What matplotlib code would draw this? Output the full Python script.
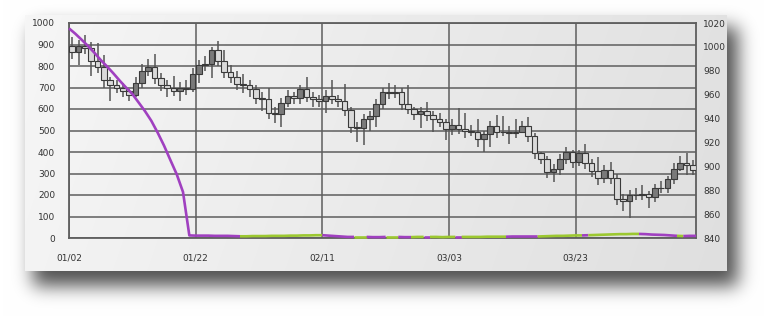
import numpy as np
import matplotlib.pyplot as plt

W, H = 764, 317

# x axis labels (day index -> label)
label_days = [0, 20, 40, 60, 80]
date_labels = ["01/02", "01/22", "02/11", "03/03", "03/23"]

# candles (right axis), one per day
first_open = 1001
closes = [996, 1001, 999, 988, 983, 972, 968, 966, 963, 960,
          970, 980, 983, 974, 968, 966, 963, 966, 965, 977,
          985, 986, 997, 988, 979, 975, 969, 968, 965, 957,
          956, 945, 944, 953, 959, 957, 965, 958, 956, 955,
          959, 956, 955, 947, 933, 932, 940, 942, 952, 962,
          961, 962, 952, 948, 944, 946, 943, 940, 937, 931,
          935, 931, 930, 929, 923, 927, 934, 929, 929, 928,
          929, 934, 925, 911, 906, 895, 898, 906, 912, 904,
          911, 903, 896, 890, 897, 890, 873, 871, 876, 876,
          877, 874, 882, 882, 889, 898, 903, 901, 897]
highs = [1008, 1006, 1010, 1004, 1003, 993, 975, 972, 970, 965,
         975, 986, 990, 994, 978, 972, 976, 971, 972, 982,
         989, 992, 1000, 1005, 997, 985, 980, 977, 972, 968,
         962, 966, 950, 957, 964, 962, 968, 975, 962, 960,
         964, 972, 960, 969, 950, 937, 944, 946, 956, 966,
         970, 968, 966, 968, 950, 950, 954, 946, 945, 940,
         940, 949, 945, 935, 940, 930, 938, 943, 942, 934,
         940, 938, 941, 928, 912, 909, 902, 910, 916, 914,
         914, 919, 906, 908, 901, 904, 894, 877, 880, 882,
         884, 879, 885, 888, 892, 903, 909, 911, 905]
lows = [990, 985, 994, 976, 978, 966, 955, 961, 958, 955,
        958, 966, 976, 969, 963, 958, 959, 955, 960, 962,
        970, 980, 974, 984, 974, 970, 964, 961, 958, 952,
        946, 940, 936, 933, 950, 952, 952, 954, 950, 950,
        945, 952, 950, 942, 928, 920, 918, 930, 933, 948,
        956, 957, 947, 944, 939, 932, 938, 929, 933, 922,
        926, 927, 924, 925, 916, 912, 916, 924, 925, 919,
        924, 928, 920, 906, 902, 890, 887, 893, 902, 899,
        900, 898, 891, 884, 886, 885, 868, 863, 857, 872,
        872, 865, 870, 878, 878, 885, 896, 893, 893]

# line series (left axis)
line_vals = [975, 950, 922, 893, 862, 828, 798, 766, 732, 700,
             670, 630, 590, 545, 490, 430, 363, 297, 214, 12,
             11, 11, 11, 10, 10, 10, 9, 8, 8, 9,
             9, 9, 10, 10, 10, 11, 11, 12, 12, 13,
             13, 11, 9, 7, 5, 5, 5, 5, 4, 4,
             5, 5, 5, 4, 4, 5, 5, 5, 5, 4,
             5, 5, 5, 5, 5, 5, 6, 6, 6, 6,
             7, 7, 7, 7, 7, 8, 9, 10, 10, 11,
             12, 12, 13, 14, 15, 16, 17, 18, 18, 19,
             19, 18, 16, 15, 14, 12, 10, 9, 10, 10]
# colour of the line between day a and day b
line_runs = [(0, 27, "p"), (27, 40, "g"), (40, 45, "p"), (45, 47, "g"),
             (47, 50, "p"), (50, 52, "g"), (52, 54, "p"), (54, 56, "g"),
             (56, 57, "p"), (57, 61, "g"), (61, 62, "p"), (62, 69, "g"),
             (69, 74, "p"), (74, 81, "g"), (81, 82, "p"), (82, 90, "g"),
             (90, 96, "p"), (96, 97, "g"), (97, 99, "p")]
run_colors = {"p": "#a040c0", "g": "#9cc830"}

opens = [first_open] + closes[:-1]

fig = plt.figure(figsize=(W / 100, H / 100), dpi=100)

# card with soft drop shadow
yy, xx = np.mgrid[0:H, 0:W]


def box(x0, y0, x1, y1):
    return ((xx >= x0) & (xx < x1) & (yy >= y0) & (yy < y1)).astype(float)


shadow = box(33, 27, 738, 286)
k = np.exp(-0.5 * (np.arange(-30, 31) / 9.0) ** 2)
k /= k.sum()
shadow = np.apply_along_axis(lambda r: np.convolve(r, k, "same"), 1, shadow)
shadow = np.apply_along_axis(lambda c: np.convolve(c, k, "same"), 0, shadow)
img = np.ones((H, W, 3)) * (1 - 0.68 * shadow)[..., None]
card = box(25, 15, 727, 271).astype(bool)
grad = 0.965 - 0.08 * (xx - 25) / 702 - 0.01 * (yy - 15) / 256
img[card] = grad[card][:, None]

bg = fig.add_axes([0, 0, 1, 1])
bg.imshow(img, extent=(0, W, H, 0), aspect="auto", interpolation="bilinear")
bg.set_xlim(0, W)
bg.set_ylim(H, 0)
bg.axis("off")

rect = [69 / W, (H - 238) / H, (696 - 69) / W, (238 - 23) / H]
ax = fig.add_axes(rect)
ax.set_facecolor("none")
ax.set_xlim(0, 99)
ax.set_ylim(0, 1000)
ax.set_yticks(np.arange(0, 1001, 100))
ax.set_xticks(label_days)
ax.set_xticklabels(date_labels)
ax.grid(True, color="#5e5e5e", lw=1.1)
ax.set_axisbelow(True)
for s in ax.spines.values():
    s.set_color("#5e5e5e")
    s.set_linewidth(1.3)
ax.tick_params(axis="y", length=0, pad=10, labelsize=6.5, labelcolor="#333333")
ax.tick_params(axis="x", length=0, pad=11, labelsize=6.5, labelcolor="#333333")

# candles on the right axis
ax2 = ax.twinx()
ax2.set_ylim(840, 1020)
ax2.set_yticks(np.arange(840, 1021, 20))
ax2.tick_params(axis="y", length=0, pad=5, labelsize=6.5, labelcolor="#333333")
for s in ax2.spines.values():
    s.set_visible(False)

xs = np.arange(len(closes)) + 0.5
o = np.array(opens)
c = np.array(closes)
ax2.vlines(xs, lows, highs, color="#555555", lw=1.1, zorder=2)
body_col = np.where(c >= o, "#7a7a7a", "#dadada")
ax2.bar(xs, np.abs(c - o), bottom=np.minimum(o, c), width=0.92,
        color=body_col, edgecolor="#3a3a3a", lw=0.8, zorder=3)

# line on the left scale
ax3 = ax.twinx()
ax3.set_ylim(0, 1000)
ax3.set_yticks([])
for s in ax3.spines.values():
    s.set_visible(False)
days = np.arange(len(line_vals))
for a, b, col in line_runs:
    ax3.plot(days[a:b + 1], line_vals[a:b + 1], color=run_colors[col],
             lw=1.9, solid_capstyle="butt", solid_joinstyle="round", clip_on=False)
ax3.set_xlim(0, 99)

fig.savefig("out.png", dpi=100)
